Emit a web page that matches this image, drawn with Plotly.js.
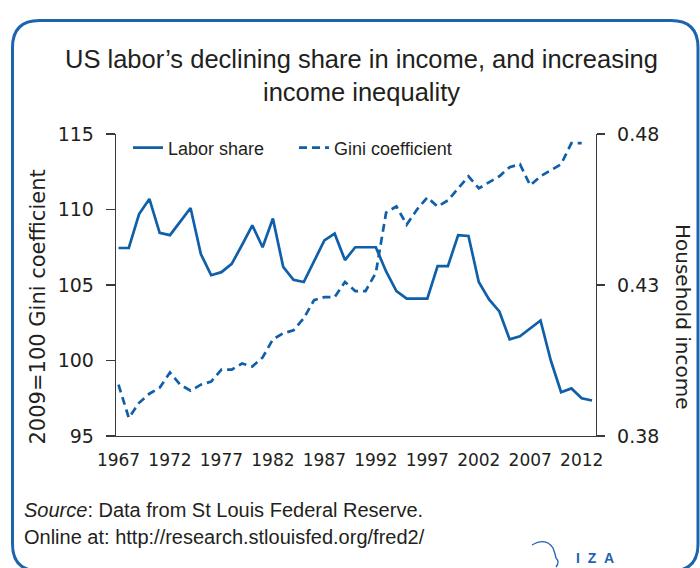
<!DOCTYPE html>
<html>
<head>
<meta charset="utf-8">
<script src="https://cdn.plot.ly/plotly-3.0.1.min.js"></script>
<style>
  html, body { margin: 0; padding: 0; background: #ffffff; }
  #chart { width: 700px; height: 568px; }
</style>
</head>
<body>
<div id="chart"></div>
<script>
// ---- data ----
const laborYears = [1967,1968,1969,1970,1971,1972,1973,1974,1975,1976,1977,1978,1979,1980,1981,1982,1983,1984,1985,1986,1987,1988,1989,1990,1991,1992,1993,1994,1995,1996,1997,1998,1999,2000,2001,2002,2003,2004,2005,2006,2007,2008,2009,2010,2011,2012,2013];
const laborShare = [107.45,107.45,109.7,110.7,108.45,108.3,109.2,110.1,107.05,105.65,105.85,106.4,107.65,108.95,107.5,109.4,106.2,105.35,105.2,106.6,107.95,108.4,106.65,107.5,107.5,107.5,105.9,104.6,104.1,104.1,104.1,106.25,106.25,108.3,108.25,105.2,104.05,103.25,101.4,101.6,102.15,102.65,100.0,97.9,98.15,97.5,97.35];
const giniYears = [1967,1968,1969,1970,1971,1972,1973,1974,1975,1976,1977,1978,1979,1980,1981,1982,1983,1984,1985,1986,1987,1988,1989,1990,1991,1992,1993,1994,1995,1996,1997,1998,1999,2000,2001,2002,2003,2004,2005,2006,2007,2008,2009,2010,2011,2012];
const gini = [0.397,0.386,0.391,0.394,0.396,0.401,0.397,0.395,0.397,0.398,0.402,0.402,0.404,0.403,0.406,0.412,0.414,0.415,0.419,0.425,0.426,0.426,0.431,0.428,0.428,0.434,0.454,0.456,0.450,0.455,0.459,0.456,0.458,0.462,0.466,0.462,0.464,0.466,0.469,0.470,0.463,0.466,0.468,0.470,0.477,0.477];
const xTicks = [1967,1972,1977,1982,1987,1992,1997,2002,2007,2012];
const leftTicks = [95,100,105,110,115];
const rightTicks = [0.38,0.43,0.48];
const seriesNames = ['Labor share','Gini coefficient'];

// ---- layout helpers (pixel -> paper for decorations) ----
const PL = 116, PR = 596, PT = 134, PB = 436;
const px = v => (v - PL) / (PR - PL);
const py = v => (PB - v) / (PB - PT);

const BLUE = '#0f5fa9';
const FRAME = '#1d64ae';
const TXT = '#231f20';
const AX = '#3a3a3a';

// rounded frame path
const fl = 12.5, ft = 20.5, fr = 698, fb = 571, rad = 27;
const framePath =
  `M${px(fl)},${py(ft+rad)} Q${px(fl)},${py(ft)} ${px(fl+rad)},${py(ft)} ` +
  `L${px(fr-rad)},${py(ft)} Q${px(fr)},${py(ft)} ${px(fr)},${py(ft+rad)} ` +
  `L${px(fr)},${py(fb-rad)} Q${px(fr)},${py(fb)} ${px(fr-rad)},${py(fb)} ` +
  `L${px(fl+rad)},${py(fb)} Q${px(fl)},${py(fb)} ${px(fl)},${py(fb-rad)} Z`;

const headPath =
  `M${px(532)},${py(545)} Q${px(546)},${py(537)} ${px(553)},${py(548)} ` +
  `Q${px(555)},${py(553)} ${px(556)},${py(558)} Q${px(560)},${py(562)} ${px(556)},${py(567)}`;

const traces = [
  {
    x: laborYears, y: laborShare, name: seriesNames[0], type: 'scatter', mode: 'lines',
    line: { color: BLUE, width: 2.7 }, yaxis: 'y'
  },
  {
    x: giniYears, y: gini, name: seriesNames[1], type: 'scatter', mode: 'lines',
    line: { color: BLUE, width: 2.7, dash: '8px,5px' }, yaxis: 'y2'
  }
];

const layout = {
  width: 700, height: 568,
  margin: { l: PL, r: 700 - PR, t: PT, b: 568 - PB, pad: 0 },
  paper_bgcolor: '#ffffff', plot_bgcolor: '#ffffff',
  font: { family: 'Liberation Sans, Arial, sans-serif', color: TXT },
  showlegend: true,
  legend: {
    orientation: 'h', x: px(128), xanchor: 'left', y: py(148), yanchor: 'middle',
    bgcolor: 'rgba(0,0,0,0)', font: { family: 'Liberation Sans, Arial, sans-serif', size: 18, color: TXT },
    entrywidth: 121, entrywidthmode: 'pixels', itemwidth: 30
  },
  xaxis: {
    range: [1966.757, 2013.39], tickvals: xTicks, ticktext: xTicks.map(String),
    showline: true, linecolor: AX, linewidth: 1.3, ticks: '', showgrid: false, zeroline: false,
    tickfont: { family: 'DejaVu Sans, sans-serif', size: 17, color: TXT }, ticklabelstandoff: 8,
    fixedrange: true
  },
  yaxis: {
    range: [95, 115], tickvals: leftTicks, ticktext: leftTicks.map(String),
    showline: true, linecolor: AX, linewidth: 1.3, ticks: 'outside', ticklen: 9, tickwidth: 1.3, tickcolor: AX,
    showgrid: false, zeroline: false,
    tickfont: { family: 'DejaVu Sans, sans-serif', size: 19, color: TXT }, ticklabelstandoff: 8
  },
  yaxis2: {
    range: [0.38, 0.48], tickvals: rightTicks, ticktext: rightTicks.map(v => v.toFixed(2)),
    overlaying: 'y', side: 'right',
    showline: true, linecolor: AX, linewidth: 1.3, ticks: 'outside', ticklen: 8, tickwidth: 1.3, tickcolor: AX,
    showgrid: false, zeroline: false,
    tickfont: { family: 'DejaVu Sans, sans-serif', size: 19, color: TXT }, ticklabelstandoff: 8
  },
  shapes: [
    { type: 'path', xref: 'paper', yref: 'paper', path: framePath, line: { color: FRAME, width: 3 }, fillcolor: 'rgba(0,0,0,0)' },
    { type: 'path', xref: 'paper', yref: 'paper', path: headPath, line: { color: FRAME, width: 1.3 }, fillcolor: 'rgba(0,0,0,0)' }
  ],
  annotations: [
    { text: 'US labor’s declining share in income, and increasing<br>income inequality',
      xref: 'paper', yref: 'paper', x: px(361), y: py(76), xanchor: 'center', yanchor: 'middle',
      align: 'center', showarrow: false,
      font: { family: 'Liberation Sans, Arial, sans-serif', size: 25.5, color: TXT } },
    { text: '2009=100 Gini coefficient', xref: 'paper', yref: 'paper', x: px(37.5), y: py(307),
      xanchor: 'center', yanchor: 'middle', textangle: -90, showarrow: false,
      font: { family: 'DejaVu Sans, sans-serif', size: 21, color: TXT } },
    { text: 'Household income', xref: 'paper', yref: 'paper', x: px(683), y: py(316),
      xanchor: 'center', yanchor: 'middle', textangle: 90, showarrow: false,
      font: { family: 'DejaVu Sans, sans-serif', size: 20, color: TXT } },
    { text: '<i>Source</i>: Data from St Louis Federal Reserve.', xref: 'paper', yref: 'paper', x: px(22), y: py(510),
      xanchor: 'left', yanchor: 'middle', showarrow: false,
      font: { family: 'Liberation Sans, Arial, sans-serif', size: 20, color: TXT } },
    { text: 'Online at: http://research.stlouisfed.org/fred2/', xref: 'paper', yref: 'paper', x: px(22), y: py(537),
      xanchor: 'left', yanchor: 'middle', showarrow: false,
      font: { family: 'Liberation Sans, Arial, sans-serif', size: 20, color: TXT } },
    { text: 'I\u00a0\u00a0Z\u00a0\u00a0A', xref: 'paper', yref: 'paper', x: px(595), y: py(558),
      xanchor: 'center', yanchor: 'middle', showarrow: false,
      font: { family: 'Liberation Sans, Arial, sans-serif', size: 14, color: FRAME, weight: 700 } }
  ]
};

Plotly.newPlot('chart', traces, layout, { staticPlot: true, displayModeBar: false });
</script>
</body>
</html>
